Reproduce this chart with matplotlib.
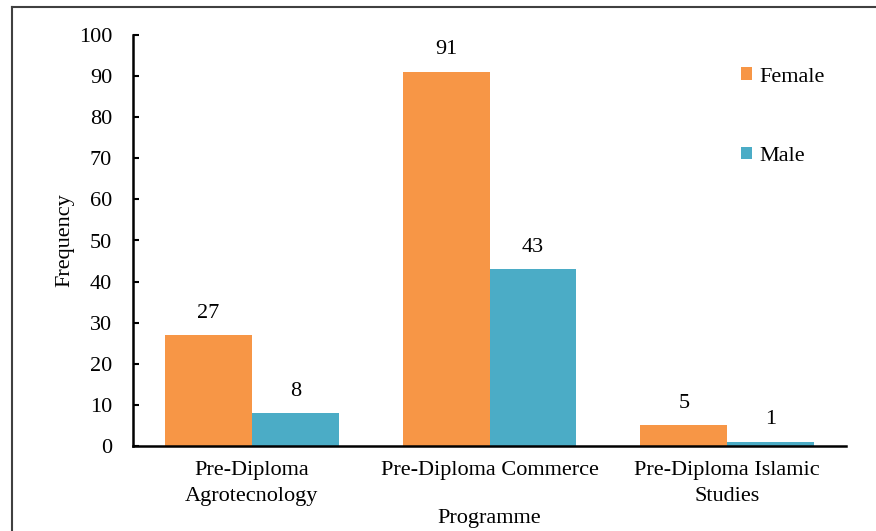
import matplotlib.pyplot as plt
import numpy as np
from matplotlib.lines import Line2D

programmes = ['Pre-Diploma\nAgrotecnology', 'Pre-Diploma Commerce',
              'Pre-Diploma Islamic\nStudies']
female = [27, 91, 5]
male = [8, 43, 1]

plt.rcParams['font.family'] = ['Liberation Serif', 'DejaVu Serif']
fs = 16

fig = plt.figure(figsize=(8.76, 5.31), dpi=100)
ax = fig.add_axes([133 / 876, 1 - 446 / 531, 713 / 876, 411 / 531])

x = np.arange(len(programmes))
w = 0.365
b1 = ax.bar(x - w / 2, female, w, color='#F79646', label='Female')
b2 = ax.bar(x + w / 2, male, w, color='#4BACC6', label='Male')

for bars in (b1, b2):
    for r in bars:
        ax.annotate(f'{r.get_height():g}', (r.get_x() + r.get_width() / 2, r.get_height()),
                    xytext=(0, 9), textcoords='offset points',
                    ha='center', va='bottom', fontsize=fs)

ax.set_xlim(-0.5, 2.5)
ax.set_ylim(0, 100)
ax.set_yticks(range(0, 101, 10))
ax.set_xticks(x)
ax.set_xticklabels(programmes, fontsize=fs, linespacing=1.5)
ax.tick_params(axis='y', direction='in', length=4, width=1.5, labelsize=fs, pad=15)
ax.tick_params(axis='x', length=0, pad=11)
for s in ('top', 'right'):
    ax.spines[s].set_visible(False)
for s in ('left', 'bottom'):
    ax.spines[s].set_linewidth(1.8)

ax.set_ylabel('Frequency', fontsize=fs, labelpad=3)
ax.set_xlabel('Programme', fontsize=fs, labelpad=2)

ax.legend(loc='upper left', bbox_to_anchor=(0.825, 0.97), frameon=False, fontsize=fs,
          handlelength=0.5, handleheight=0.5, handletextpad=0.3, labelspacing=2.7)

# outer frame of the chart area
fig.add_artist(Line2D([12 / 876, 12 / 876], [0, 1 - 7 / 531], color='#404040', lw=1.5))
fig.add_artist(Line2D([12 / 876, 1], [1 - 7 / 531, 1 - 7 / 531], color='#404040', lw=1.5))

fig.savefig('out.png', dpi=100)
